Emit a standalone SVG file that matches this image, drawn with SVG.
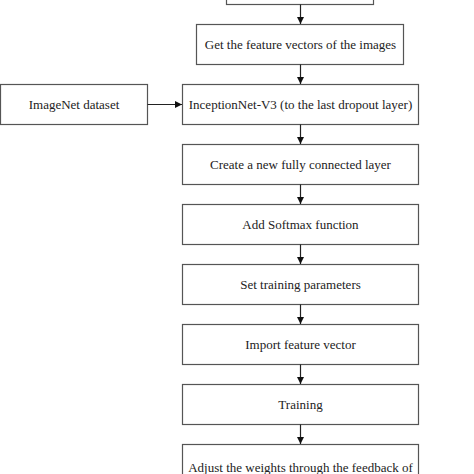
<svg xmlns="http://www.w3.org/2000/svg" width="474" height="474" viewBox="0 0 474 474">
<defs>
<marker id="ah" viewBox="0 0 10 10" refX="10" refY="5" markerWidth="7" markerHeight="7" markerUnits="userSpaceOnUse" orient="auto">
<path d="M0,0 L10,5 L0,10 z" fill="#111"/>
</marker>
<style>
.b{fill:#fff;stroke:#555;stroke-width:1.2}
.t{font-family:"Liberation Serif","Times New Roman",serif;font-size:13px;fill:#222;text-anchor:middle}
.c{stroke:#222;stroke-width:1.2;fill:none;marker-end:url(#ah)}
</style>
</defs>
<rect width="474" height="474" fill="#fff"/>
<g id="n0"><rect class="b" x="226.5" y="-35.5" width="147" height="40"/></g>
<g id="n1"><rect class="b" x="196.5" y="24.5" width="207" height="40"/><text class="t" x="300.5" y="49">Get the feature vectors of the images</text></g>
<g id="n2"><rect class="b" x="0.5" y="84.5" width="147" height="40"/><text class="t" x="74" y="109">ImageNet dataset</text></g>
<g id="n3"><rect class="b" x="182.5" y="84.5" width="236" height="40"/><text class="t" x="300.5" y="109">InceptionNet-V3 (to the last dropout layer)</text></g>
<g id="n4"><rect class="b" x="182.5" y="144.5" width="236" height="40"/><text class="t" x="300.5" y="169">Create a new fully connected layer</text></g>
<g id="n5"><rect class="b" x="182.5" y="204.5" width="236" height="40"/><text class="t" x="300.5" y="229">Add Softmax function</text></g>
<g id="n6"><rect class="b" x="182.5" y="264.5" width="236" height="40"/><text class="t" x="300.5" y="289">Set training parameters</text></g>
<g id="n7"><rect class="b" x="182.5" y="324.5" width="236" height="40"/><text class="t" x="300.5" y="349">Import feature vector</text></g>
<g id="n8"><rect class="b" x="182.5" y="384.5" width="236" height="40"/><text class="t" x="300.5" y="409">Training</text></g>
<g id="n9"><rect class="b" x="182.5" y="444.5" width="236" height="50"/><text class="t" x="300.5" y="471.5">Adjust the weights through the feedback of</text></g>
<g id="connectors">
<line class="c" x1="300.5" y1="4.5" x2="300.5" y2="24"/>
<line class="c" x1="300.5" y1="64.5" x2="300.5" y2="84"/>
<line class="c" x1="147.5" y1="104.5" x2="182" y2="104.5"/>
<line class="c" x1="300.5" y1="124.5" x2="300.5" y2="144"/>
<line class="c" x1="300.5" y1="184.5" x2="300.5" y2="204"/>
<line class="c" x1="300.5" y1="244.5" x2="300.5" y2="264"/>
<line class="c" x1="300.5" y1="304.5" x2="300.5" y2="324"/>
<line class="c" x1="300.5" y1="364.5" x2="300.5" y2="384"/>
<line class="c" x1="300.5" y1="424.5" x2="300.5" y2="444"/>
</g>
</svg>
